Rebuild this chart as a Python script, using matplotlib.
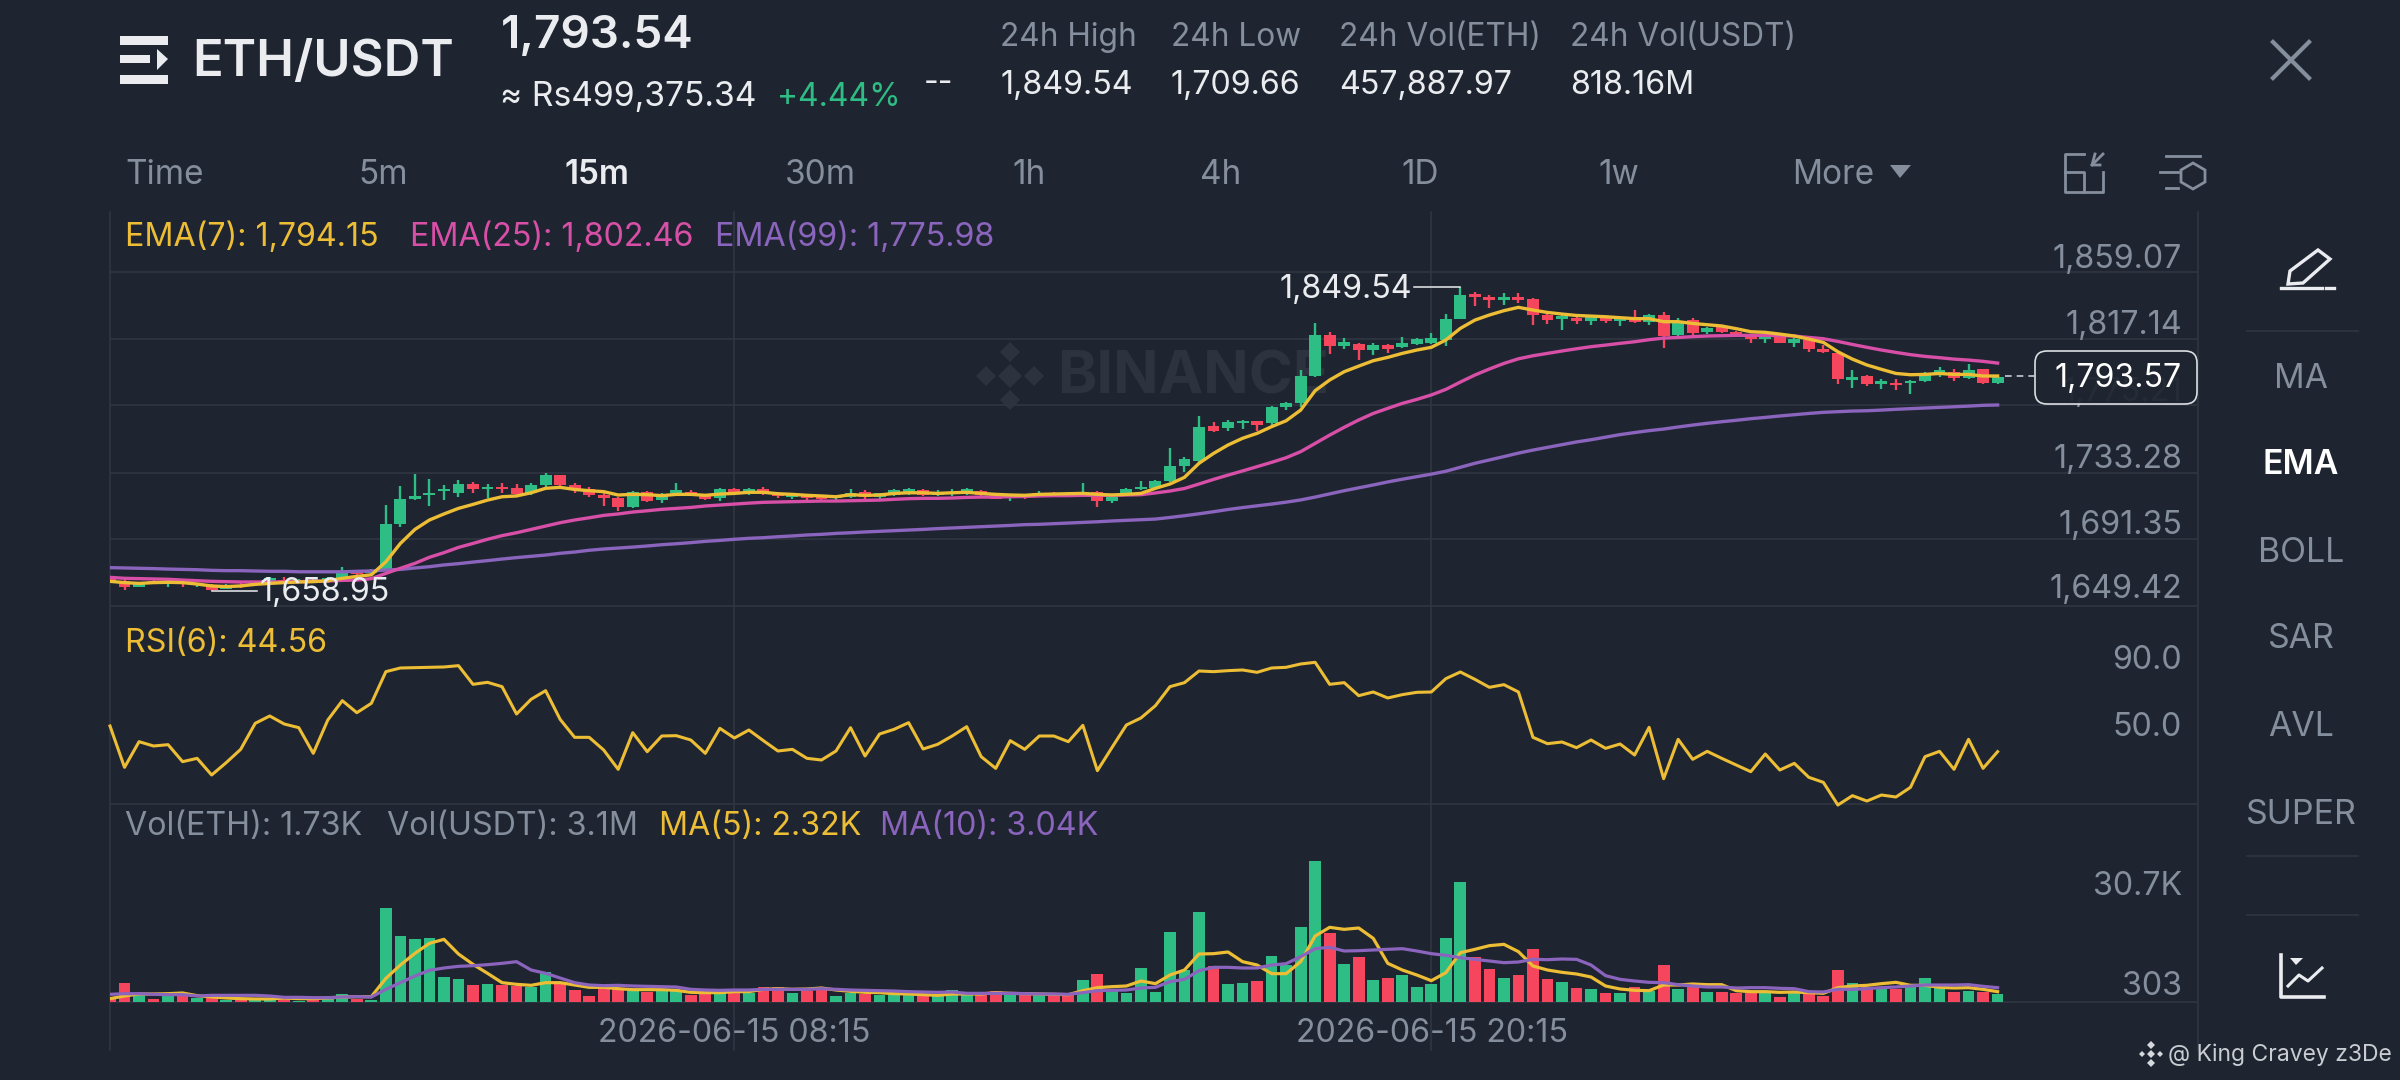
import numpy as np
import matplotlib
matplotlib.use('Agg')
import matplotlib.pyplot as plt
from matplotlib.patches import FancyBboxPatch, Polygon, Rectangle

plt.rcParams['font.family'] = ['Inter', 'DejaVu Sans']

# candles, 15m
opens = [1666.8,1665.1,1661.1,1665.3,1664.1,1664.7,1662.4,1662.4,1660.3,1662.8,
         1662.8,1664.1,1665.7,1664.3,1665.7,1664.9,1667.0,1670.8,1670.3,1672.4,
         1700.9,1716.4,1718.9,1721.6,1720.5,1725.8,1722.6,1724.3,1723.5,1720.5,
         1725.4,1731.4,1725.4,1722.6,1719.1,1717.4,1711.8,1721.2,1715.9,1720.5,
         1720.8,1718.5,1717.0,1722.6,1720.1,1722.6,1720.1,1718.0,1718.5,1717.6,
         1717.0,1718.0,1721.2,1717.6,1719.1,1719.7,1722.2,1719.3,1719.5,1720.1,
         1721.8,1719.7,1717.0,1718.5,1719.1,1720.5,1720.5,1720.1,1721.2,1715.5,
         1720.1,1722.6,1723.3,1728.1,1737.3,1740.6,1762.4,1760.9,1764.1,1765.5,
         1764.5,1774.1,1777.0,1793.8,1819.7,1812.6,1813.9,1810.1,1813.0,1811.8,
         1813.9,1814.7,1816.4,1829.5,1845.2,1843.6,1841.5,1843.6,1842.3,1832.1,
         1829.3,1830.2,1828.1,1830.6,1828.5,1830.6,1827.9,1832.1,1819.3,1828.9,
         1821.4,1824.3,1821.4,1819.3,1816.8,1820.1,1814.7,1816.4,1810.9,1808.0,
         1791.3,1793.8,1788.8,1789.6,1789.6,1790.6,1794.6,1796.5,1792.3,1798.2,1789.2]
closes = [1664.7,1661.6,1664.1,1664.1,1665.3,1663.0,1663.6,1659.5,1662.4,1661.1,
          1664.1,1666.8,1664.1,1665.3,1664.5,1667.0,1670.3,1669.5,1671.6,1700.7,
          1716.4,1718.5,1720.5,1722.8,1726.0,1722.6,1724.3,1722.6,1719.7,1725.4,
          1731.4,1725.4,1722.2,1719.1,1717.0,1711.3,1721.2,1715.5,1719.1,1722.2,
          1719.7,1716.8,1722.6,1719.7,1722.6,1720.1,1718.5,1719.1,1717.0,1716.4,
          1718.5,1720.5,1717.6,1720.1,1722.2,1722.8,1719.3,1721.0,1721.2,1722.6,
          1719.1,1716.8,1718.5,1717.6,1720.5,1719.5,1719.5,1721.2,1715.5,1717.6,
          1722.8,1724.3,1727.9,1737.5,1741.5,1761.6,1759.0,1765.1,1765.7,1762.8,
          1774.5,1777.0,1793.8,1819.7,1812.6,1815.3,1810.1,1813.2,1810.9,1814.3,
          1816.8,1817.6,1829.5,1844.8,1843.6,1841.5,1843.1,1841.5,1832.1,1828.9,
          1831.4,1828.1,1830.6,1828.1,1830.0,1827.7,1832.1,1818.9,1828.5,1821.0,
          1823.7,1821.4,1819.3,1816.8,1818.9,1814.7,1816.8,1810.9,1808.8,1791.7,
          1793.4,1788.8,1790.8,1787.9,1790.8,1794.4,1797.5,1792.3,1797.5,1789.2,1792.9]
highs = [1667.8,1665.7,1664.7,1665.7,1665.7,1665.3,1664.1,1663.2,1663.2,1663.6,
         1664.7,1667.8,1667.4,1666.2,1666.8,1667.8,1673.7,1672.0,1672.4,1712.8,
         1724.7,1732.3,1728.9,1725.1,1728.5,1727.4,1726.0,1726.4,1726.0,1726.4,
         1733.1,1731.8,1726.4,1724.3,1720.1,1718.0,1721.8,1721.8,1720.1,1726.8,
         1722.2,1719.1,1723.3,1723.3,1723.3,1724.3,1721.2,1720.5,1719.7,1718.0,
         1719.1,1722.6,1722.2,1720.5,1722.6,1723.5,1722.8,1722.2,1723.1,1723.5,
         1722.2,1720.1,1719.1,1719.7,1721.8,1721.2,1721.2,1726.8,1721.8,1718.0,
         1723.3,1728.1,1728.5,1748.4,1742.7,1768.7,1764.9,1766.2,1766.2,1765.7,
         1774.9,1777.5,1797.5,1827.2,1821.6,1817.8,1814.7,1814.3,1813.9,1818.0,
         1817.4,1820.6,1832.5,1849.54,1846.5,1844.8,1846.1,1846.1,1842.5,1833.1,
         1831.8,1831.0,1831.0,1831.0,1830.6,1835.2,1832.7,1834.1,1830.0,1830.0,
         1824.3,1825.2,1822.2,1820.1,1819.5,1820.6,1817.4,1817.4,1813.0,1808.4,
         1797.5,1794.4,1791.7,1792.1,1791.3,1796.5,1799.2,1798.0,1801.3,1798.4,1793.8]
lows = [1663.6,1659.5,1661.1,1663.2,1661.6,1661.6,1661.1,1658.95,1659.9,1660.7,
        1662.0,1663.2,1663.2,1663.6,1663.6,1664.1,1666.2,1668.7,1669.5,1672.0,
        1698.8,1715.9,1712.2,1715.9,1718.0,1720.5,1717.0,1720.1,1718.5,1719.1,
        1723.3,1723.9,1720.1,1718.0,1712.2,1709.2,1710.7,1714.7,1714.3,1719.1,
        1718.5,1715.9,1715.3,1719.1,1719.1,1719.1,1717.2,1716.8,1715.9,1715.1,
        1715.5,1717.2,1716.4,1716.8,1718.5,1718.9,1718.5,1718.5,1718.5,1719.1,
        1718.0,1716.4,1715.3,1716.6,1718.0,1718.5,1718.5,1719.1,1711.8,1713.9,
        1719.5,1722.2,1722.2,1727.5,1733.7,1740.0,1758.6,1759.5,1760.3,1759.5,
        1762.4,1772.4,1774.5,1792.9,1807.6,1810.5,1803.8,1807.2,1808.4,1811.3,
        1813.0,1813.6,1812.6,1829.3,1837.7,1836.5,1838.5,1839.4,1825.8,1826.4,
        1822.6,1826.4,1825.6,1827.2,1825.2,1827.2,1825.6,1811.1,1818.9,1819.3,
        1820.1,1820.6,1818.5,1814.7,1814.7,1814.7,1812.2,1809.0,1808.4,1788.8,
        1786.2,1787.5,1785.8,1785.0,1782.5,1790.2,1792.9,1790.8,1791.7,1788.8,1789.0]

ema7 = [1664.9,1664.1,1663.6,1664.1,1664.3,1664.1,1663.2,1662.0,1661.6,1662.0,
        1663.0,1663.6,1664.1,1664.5,1664.7,1665.3,1666.8,1668.0,1669.0,1677.2,
        1688.7,1697.5,1703.4,1707.2,1710.7,1713.2,1715.9,1718.0,1718.5,1720.5,
        1723.3,1723.9,1722.6,1721.8,1721.2,1719.1,1719.5,1719.3,1718.7,1719.5,
        1719.5,1718.9,1719.7,1720.1,1720.8,1720.8,1719.9,1719.5,1718.9,1718.5,
        1718.0,1719.3,1718.9,1719.1,1720.1,1720.5,1720.5,1720.1,1720.5,1720.8,
        1720.1,1719.5,1719.1,1718.9,1719.5,1719.7,1719.9,1720.1,1719.5,1719.1,
        1719.5,1720.1,1723.3,1726.0,1730.2,1739.0,1745.2,1750.5,1754.7,1757.8,
        1762.0,1765.7,1772.4,1784.6,1791.3,1796.5,1800.0,1803.4,1805.5,1808.0,
        1810.1,1811.8,1816.4,1823.7,1828.9,1832.1,1834.8,1836.9,1835.2,1833.7,
        1832.7,1831.8,1831.4,1831.0,1830.4,1829.8,1829.8,1827.9,1827.9,1826.8,
        1826.0,1825.2,1823.5,1821.6,1821.2,1820.1,1818.9,1817.0,1814.9,1809.0,
        1804.4,1800.7,1798.0,1795.4,1794.6,1794.8,1795.4,1794.8,1794.8,1793.8,1793.8]
ema25 = [1667.4,1666.8,1666.6,1666.4,1666.2,1665.7,1665.3,1664.9,1664.7,1664.5,
         1664.5,1664.5,1664.5,1664.7,1664.9,1665.1,1665.5,1665.7,1666.6,1669.9,
         1673.1,1676.2,1680.0,1682.9,1686.2,1688.7,1691.3,1693.6,1695.4,1697.5,
         1699.6,1701.7,1703.4,1704.8,1706.3,1707.2,1708.4,1709.2,1710.1,1710.7,
         1711.3,1712.2,1712.8,1713.4,1714.0,1714.5,1714.7,1714.9,1715.1,1715.3,
         1715.3,1715.5,1715.7,1715.9,1716.4,1716.8,1717.0,1717.0,1717.2,1717.6,
         1717.8,1717.8,1718.0,1718.2,1718.5,1718.7,1718.7,1718.9,1718.9,1718.9,
         1719.1,1719.3,1720.4,1721.6,1723.2,1726.0,1728.9,1731.6,1734.2,1736.9,
         1739.6,1742.5,1746.3,1751.5,1756.7,1761.6,1766.2,1770.3,1773.5,1776.6,
         1779.1,1781.9,1785.4,1790.0,1794.4,1798.2,1801.7,1804.6,1806.5,1808.0,
         1809.5,1810.9,1812.2,1813.2,1814.3,1815.3,1816.6,1817.6,1818.0,1818.5,
         1818.9,1819.1,1819.3,1819.3,1819.3,1819.1,1818.9,1818.0,1817.2,1815.5,
         1813.6,1811.8,1810.1,1808.6,1807.2,1806.1,1805.3,1804.4,1803.8,1803.0,1801.9]
ema99 = [1673.5,1673.3,1673.1,1672.9,1672.6,1672.4,1672.2,1671.8,1671.6,1671.6,
         1671.4,1671.2,1671.2,1670.9,1670.9,1670.9,1670.9,1671.2,1671.4,1672.0,
         1672.4,1673.3,1674.1,1675.2,1676.0,1677.0,1677.9,1678.9,1679.8,1680.6,
         1681.4,1682.5,1683.3,1684.4,1685.2,1685.8,1686.4,1687.1,1687.9,1688.5,
         1689.2,1690.0,1690.6,1691.3,1691.9,1692.3,1692.9,1693.4,1694.0,1694.4,
         1695.0,1695.4,1695.9,1696.3,1696.7,1697.1,1697.5,1698.0,1698.4,1698.8,
         1699.2,1699.6,1700.0,1700.5,1700.7,1701.1,1701.5,1701.9,1702.3,1702.8,
         1703.2,1703.6,1704.0,1705.0,1706.1,1707.3,1708.6,1710.0,1711.2,1712.3,
         1713.4,1714.6,1716.0,1717.8,1719.8,1721.8,1723.6,1725.4,1727.3,1729.0,
         1730.6,1732.2,1734.0,1736.5,1739.0,1741.1,1743.2,1745.4,1747.3,1749.0,
         1750.7,1752.4,1753.8,1755.4,1757.0,1758.3,1759.5,1760.5,1761.8,1763.0,
         1764.1,1765.1,1766.0,1767.0,1767.8,1768.7,1769.5,1770.3,1771.0,1771.4,
         1771.8,1772.0,1772.4,1772.9,1773.3,1773.7,1774.1,1774.5,1774.9,1775.4,1775.6]

rsi6 = [59.0,34.2,49.6,47.0,47.8,37.6,39.6,29.6,37.0,45.0,
        60.6,65.0,60.2,58.0,42.6,62.6,74.2,67.0,72.6,91.6,
        93.8,94.0,94.2,94.4,95.2,84.0,85.2,82.6,66.2,75.0,
        80.2,63.0,52.2,52.2,44.6,33.0,55.0,43.6,53.0,53.2,
        50.6,42.6,57.6,51.8,56.6,50.2,44.0,45.0,39.6,38.6,
        44.0,58.0,41.0,54.2,57.0,61.0,45.2,48.0,53.0,58.6,
        40.6,33.6,50.2,45.0,53.0,53.0,49.6,59.4,32.2,46.0,
        59.6,63.8,71.2,82.6,85.0,92.0,91.6,92.2,92.6,91.2,
        93.8,94.2,96.2,97.2,84.0,85.0,77.2,79.4,75.8,77.8,
        79.2,79.4,87.4,91.4,87.0,82.2,83.8,79.4,52.2,48.4,
        49.4,46.0,50.6,45.6,48.2,41.6,58.2,27.4,51.0,39.0,
        43.8,39.6,35.6,31.6,42.2,32.6,36.6,28.2,25.2,11.6,
        17.2,14.0,17.6,16.4,22.2,40.6,43.8,33.0,51.0,33.6,43.6]

# volume in K
volume = [1.1,5.8,2.8,0.9,1.9,1.8,1.1,1.1,0.5,0.5,
          0.7,0.7,0.9,0.4,0.8,0.9,2.3,1.0,0.6,28.3,
          19.7,18.8,19.2,7.5,6.9,5.1,5.4,5.2,4.9,4.4,
          9.1,5.6,3.6,1.8,4.4,3.8,3.4,2.9,3.4,3.4,
          2.2,2.7,2.8,2.8,2.8,4.6,4.4,2.8,3.3,4.6,
          1.8,2.8,2.4,2.2,2.4,2.2,2.2,2.0,3.6,2.2,
          2.2,3.2,2.2,2.6,2.0,2.2,2.4,6.6,8.4,3.2,
          2.8,10.2,3.0,20.9,9.6,27.1,10.8,5.3,5.8,6.4,
          13.8,11.1,22.6,42.4,20.6,11.4,13.6,6.6,7.1,8.1,
          4.4,5.4,19.2,36.1,13.6,9.8,7.3,8.2,15.8,7.0,
          6.0,4.1,3.9,2.8,2.8,4.4,3.4,11.1,4.0,4.4,
          3.0,3.1,2.8,2.8,2.6,1.6,2.6,2.8,1.8,9.6,
          5.8,4.4,4.4,3.8,4.4,7.1,4.4,2.9,3.4,3.1,2.4]
vol_ma5 = [1.0,1.8,2.4,2.4,2.5,2.7,1.9,1.5,1.2,1.0,
           0.9,0.9,1.2,1.0,1.0,1.2,1.5,1.6,1.6,7.1,
           11.1,14.6,17.6,18.8,14.4,11.3,8.6,5.8,5.3,5.0,
           5.8,5.8,5.1,4.4,4.4,4.0,3.7,3.7,3.7,3.5,
           2.9,2.8,2.8,3.1,3.1,3.8,4.0,3.8,3.9,4.2,
           3.6,3.2,2.9,2.8,2.5,2.4,2.2,2.0,2.4,2.4,
           2.4,2.8,2.6,2.5,2.4,2.3,2.2,3.4,4.3,4.6,
           4.8,6.3,5.5,8.1,9.6,14.4,14.5,15.0,12.1,11.1,
           8.5,8.5,12.1,19.8,22.4,21.8,22.2,19.1,11.6,9.6,
           8.1,6.4,8.8,14.8,15.8,16.9,17.3,15.1,10.8,9.6,
           8.9,8.4,7.5,4.8,3.9,3.5,3.4,5.1,5.1,5.4,
           5.2,5.2,3.4,3.1,3.1,2.9,3.0,2.8,2.6,4.3,
           4.8,5.0,5.5,5.9,5.0,5.0,4.4,4.2,4.3,3.8,3.1]
vol_ma10 = [2.3,2.5,2.5,2.3,2.2,2.2,1.8,2.0,2.0,2.0,
            2.0,1.8,1.4,1.4,1.3,1.3,1.5,1.6,1.5,3.8,
            5.8,7.8,9.5,10.2,10.7,10.9,11.2,11.6,12.1,9.6,
            8.6,7.2,5.8,5.1,4.9,5.0,4.8,4.7,4.6,4.5,
            3.8,3.6,3.5,3.6,3.6,3.8,3.8,3.8,3.8,4.0,
            3.8,3.6,3.5,3.4,3.3,3.1,3.0,2.9,3.0,2.6,
            2.6,2.6,2.6,2.5,2.4,2.4,2.3,2.8,3.4,3.5,
            3.6,4.2,4.4,6.1,6.8,9.4,10.4,10.4,10.2,10.2,
            11.1,11.5,13.6,16.0,16.4,15.3,15.4,15.6,15.8,16.0,
            15.3,14.5,14.0,13.3,12.8,12.3,11.8,12.0,12.8,12.7,
            12.9,12.8,11.1,7.9,6.8,6.3,5.9,5.8,5.2,4.8,
            4.5,4.5,4.2,4.3,4.3,4.1,4.0,3.1,3.0,3.8,
            3.8,4.0,4.3,4.5,4.8,5.1,5.1,5.1,5.2,4.7,4.3]

price_ticks = [1859.07, 1817.14, 1775.21, 1733.28, 1691.35, 1649.42]
price_labels = ['1,859.07', '1,817.14', '1,775.21', '1,733.28', '1,691.35', '1,649.42']
timeframes = ['5m', '15m', '30m', '1h', '4h', '1D', '1w']
side_labels = ['MA', 'EMA', 'BOLL', 'SAR', 'AVL', 'SUPER']
stat_heads = ['24h High', '24h Low', '24h Vol(ETH)', '24h Vol(USDT)']
stat_values = ['1,849.54', '1,709.66', '457,887.97', '818.16M']

BG = '#1e2530'
GRID = '#2f3641'
GRAY = '#848e9c'
WHITE = '#eaecef'
GREEN = '#2ebd85'
RED = '#f6465d'
GOLD = '#ecbd35'
PINK = '#d84fa8'
PURPLE = '#8a64bd'

W, H = 2400, 1080
LEFT, RIGHT = 110, 2198
STEP = 14.52
n = len(closes)
x = np.arange(n)
colors = [GREEN if c >= o else RED for o, c in zip(opens, closes)]

fig = plt.figure(figsize=(24, 10.8), dpi=100, facecolor=BG)

# everything that isn't chart data goes on this one, in pixels
ui = fig.add_axes([0, 0, 1, 1], zorder=0)
ui.set_xlim(0, W)
ui.set_ylim(H, 0)
ui.axis('off')


def pane(top, bottom, ylim):
    ax = fig.add_axes([LEFT / W, 1 - bottom / H, (RIGHT - LEFT) / W, (bottom - top) / H], zorder=1)
    ax.patch.set_alpha(0)
    ax.set_xlim(0, (RIGHT - LEFT) / STEP)
    ax.set_ylim(*ylim)
    for s in ax.spines.values():
        s.set_visible(False)
    ax.set_xticks([])
    ax.set_yticks([])
    return ax


def label(px, py, s, color=GRAY, size=23.2, ha='left', weight='normal', **kw):
    return ui.text(px, py + 3.5, s, color=color, fontsize=size, ha=ha, va='center', fontweight=weight, **kw)


# grid
for yy in [272, 339, 405, 473, 539, 606, 804, 1002]:
    ui.plot([LEFT, RIGHT], [yy, yy], color=GRID, lw=1.2)
for xx in [LEFT, LEFT + 43 * STEP, LEFT + 91 * STEP, RIGHT]:
    ui.plot([xx, xx], [212, 1050], color=GRID, lw=1.2)

# watermark
ui.text(1057, 378, 'BINANCE', color='#2c333e', fontsize=43, fontweight='bold', va='center')
for cx, cy, r in [(1010, 376, 12), (1010, 352, 10), (1010, 400, 10), (986, 376, 10), (1034, 376, 10)]:
    ui.add_patch(Polygon([(cx - r, cy), (cx, cy - r), (cx + r, cy), (cx, cy + r)], color='#2c333e', lw=0))

# price pane
ax1 = pane(212, 606, (1649.42, 1649.42 + 394 / 1.593))
ax1.vlines(x, lows, highs, colors=colors, lw=1.7, zorder=2)
ax1.bar(x, np.abs(np.array(closes) - np.array(opens)), bottom=np.minimum(opens, closes),
        width=0.82, color=colors, zorder=2)
ax1.plot(x, ema99, color=PURPLE, lw=2.4, zorder=3)
ax1.plot(x, ema25, color=PINK, lw=2.4, zorder=3)
ax1.plot(x, ema7, color=GOLD, lw=2.4, zorder=3)
ax1.plot([130.5, (2035 - LEFT) / STEP], [1793.57, 1793.57], color='#c9ccd1', lw=1.2, ls=(0, (4, 3)))

ax1.plot([89.8, 93], [1849.54, 1849.54], color=WHITE, lw=1.1, zorder=4)
ax1.text(89.7, 1849.54 - 1.3, '1,849.54', color=WHITE, fontsize=23.2, ha='right', va='center', zorder=4)
ax1.plot([7, 10.1], [1658.95, 1658.95], color=WHITE, lw=1.1, zorder=4)
ax1.text(10.3, 1658.95 - 1.3, '1,658.95', color=WHITE, fontsize=23.2, ha='left', va='center', zorder=4)

# rsi pane
ax2 = pane(606, 804, (50 - 63 / 1.667, 50 + 135 / 1.667))
ax2.plot(x, rsi6, color=GOLD, lw=2.2, clip_on=False)

# volume pane
ax3 = pane(804, 1002, (0, 59.4))
ax3.bar(x, volume, width=0.81, color=colors)
ax3.plot(x, vol_ma5, color=GOLD, lw=2.3)
ax3.plot(x, vol_ma10, color=PURPLE, lw=2.3)

# axis labels
for s, yy in zip(price_labels, [256, 322, 389, 456, 522, 586]):
    label(2182, yy, s, ha='right')
label(2182, 657, '90.0', ha='right')
label(2182, 724, '50.0', ha='right')
label(2182, 883, '30.7K', ha='right')
label(2182, 983, '303', ha='right')
label(734, 1030, '2026-06-15 08:15', ha='center')
label(1432, 1030, '2026-06-15 20:15', ha='center')

ui.add_patch(FancyBboxPatch((2043, 359), 146, 37, boxstyle='round,pad=8,rounding_size=12',
                            facecolor=BG, edgecolor=WHITE, lw=1.2, alpha=0.93, zorder=3))
label(2182, 375, '1,793.57', color='#ffffff', ha='right', zorder=4)

# header
for yy, hh in [(36, 9), (75, 9)]:
    ui.add_patch(Rectangle((120, yy), 48, hh, color=WHITE, lw=0))
ui.add_patch(Rectangle((120, 55), 30, 8, color=WHITE, lw=0))
ui.add_patch(Polygon([(157, 49), (168, 59), (157, 70)], color=WHITE, lw=0))
label(192, 59, 'ETH/USDT', color=WHITE, size=36.5, weight='semibold')
label(501, 33, '1,793.54', color=WHITE, size=33, weight='semibold')
label(500, 94, '≈ Rs499,375.34', color=WHITE, size=24.2)
label(777, 94, '+4.44%', color=GREEN, size=23)
label(924, 80, '--', color=WHITE, size=23)
for px, head, val in zip([1000, 1171, 1339, 1570], stat_heads, stat_values):
    label(px, 34, head, size=22.8)
    label(px, 82, val, color=WHITE, size=23.2)
ui.plot([2273, 2309], [42, 78], color=GRAY, lw=3)
ui.plot([2273, 2309], [78, 42], color=GRAY, lw=3)

# timeframe row
label(125, 171, 'Time', size=24)
for px, s in zip([383, 597, 820, 1029, 1221, 1420, 1619], timeframes):
    if s == '15m':
        label(px, 171, s, color=WHITE, size=24, ha='center', weight='semibold')
    else:
        label(px, 171, s, size=24, ha='center')
label(1833, 171, 'More', size=24, ha='center')
ui.add_patch(Polygon([(1890, 165), (1911, 165), (1900, 178)], color=GRAY, lw=0))
# expand icon
ui.plot([2084, 2065, 2065, 2103, 2103], [154, 154, 192, 192, 172], color=GRAY, lw=2)
ui.plot([2065, 2084, 2084], [172, 172, 192], color=GRAY, lw=2)
ui.plot([2092, 2103], [165, 154], color=GRAY, lw=2)
ui.plot([2095, 2092, 2100], [154, 165, 165], color=GRAY, lw=2)
ui.plot([2166, 2200], [156, 156], color=GRAY, lw=2)
ui.plot([2160, 2178], [172, 172], color=GRAY, lw=2)
ui.plot([2166, 2178], [188, 188], color=GRAY, lw=2)
ui.add_patch(Polygon([(2193, 163), (2205, 170), (2205, 182), (2193, 189), (2181, 182), (2181, 170)],
                     fill=False, edgecolor=GRAY, lw=2))

# legends
label(125, 234, 'EMA(7): 1,794.15', color=GOLD)
label(410, 234, 'EMA(25): 1,802.46', color=PINK)
label(715, 234, 'EMA(99): 1,775.98', color=PURPLE)
label(125, 640, 'RSI(6): 44.56', color=GOLD)
label(125, 823, 'Vol(ETH): 1.73K')
label(387, 823, 'Vol(USDT): 3.1M')
label(659, 823, 'MA(5): 2.32K', color=GOLD)
label(880, 823, 'MA(10): 3.04K', color=PURPLE)

# side bar
for s, yy in zip(side_labels, [375, 462, 549, 636, 724, 811]):
    if s == 'EMA':
        label(2301, yy, s, color='#ffffff', size=24.4, ha='center', weight='semibold')
    else:
        label(2301, yy, s, size=24.4, ha='center')
for yy in [331, 856, 915]:
    ui.plot([2247, 2358], [yy, yy], color=GRID, lw=1.2)
ui.add_patch(Polygon([(2290, 271), (2318, 250), (2330, 259), (2303, 283), (2288, 284)],
                     fill=False, edgecolor=WHITE, lw=2.4))
ui.plot([2281, 2322], [288, 288], color=WHITE, lw=2.4)
ui.plot([2326, 2334], [288, 288], color=WHITE, lw=2.4)
ui.plot([2281, 2281, 2324], [955, 997, 997], color=WHITE, lw=2.6)
ui.plot([2288, 2299, 2308, 2322], [986, 975, 981, 968], color=WHITE, lw=2.2)
ui.add_patch(Polygon([(2290, 958), (2303, 958), (2296, 965)], color=WHITE, lw=0))

# credit
for cx, cy, r in [(2151, 1054, 4), (2151, 1045, 4), (2151, 1063, 4), (2142, 1054, 3), (2160, 1054, 3)]:
    ui.add_patch(Polygon([(cx - r, cy), (cx, cy - r), (cx + r, cy), (cx, cy + r)], color='#d5d8dc', lw=0))
label(2168, 1051, '@ King Cravey z3De', color='#c9ccd1', size=16.5)

fig.savefig('out.png', dpi=100, facecolor=BG)
